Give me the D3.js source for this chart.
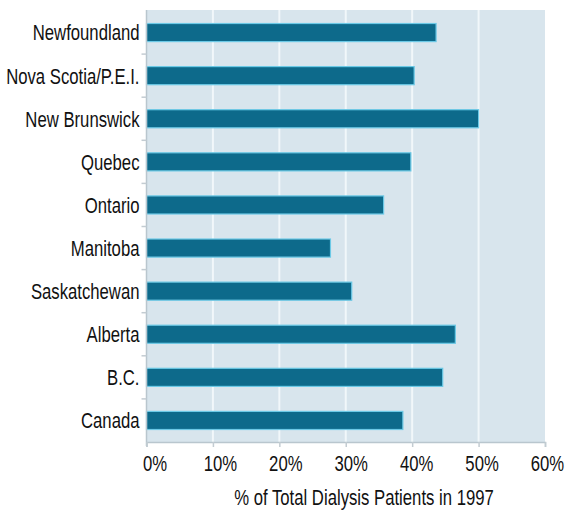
<!DOCTYPE html>
<html>
<head>
<meta charset="utf-8">
<script src="https://cdn.jsdelivr.net/npm/d3@7"></script>
<style>
  html, body { margin: 0; padding: 0; background: #ffffff; }
  svg { display: block; }
  text { font-family: "Liberation Sans", Arial, sans-serif; fill: #111111; }
</style>
</head>
<body>
<svg id="chart" width="567" height="510"></svg>
<script>
// Share of dialysis patients by province, 1997
const provinces = ["Newfoundland", "Nova Scotia/P.E.I.", "New Brunswick", "Quebec", "Ontario",
                   "Manitoba", "Saskatchewan", "Alberta", "B.C.", "Canada"];
const shares = [43.6, 40.3, 50.0, 39.8, 35.7, 27.7, 30.9, 46.5, 44.6, 38.6];
const xTicks = [0, 10, 20, 30, 40, 50, 60];
const xTitle = "% of Total Dialysis Patients in 1997";

// condensed lettering: regular face squeezed horizontally
const FONT_SIZE = 22;
const SQUEEZE = 0.76;

const svg = d3.select("#chart");
const plot = { left: 146.5, right: 545, top: 11, bottom: 442 };

const x = d3.scaleLinear().domain([0, 60]).range([plot.left, plot.right]);
const y = d3.scaleBand().domain(provinces).range([plot.top, plot.bottom]).paddingInner(0.58).paddingOuter(0.29);
const yBands = d3.scaleBand().domain(provinces).range([plot.top, plot.bottom]);

// soft blur used on the bars
const defs = svg.append("defs");
defs.append("filter").attr("id", "soft").attr("x", "-5%").attr("y", "-20%").attr("width", "110%").attr("height", "140%")
  .append("feGaussianBlur").attr("stdDeviation", 0.6);

// panel background
svg.append("rect")
  .attr("x", plot.left).attr("y", plot.top - 1)
  .attr("width", plot.right - plot.left).attr("height", plot.bottom - plot.top + 1)
  .attr("fill", "#d8e5ed");

// vertical gridlines
svg.append("g")
  .selectAll("line")
  .data(xTicks.filter(d => d > 0 && d < 60))
  .join("line")
  .attr("x1", d => x(d)).attr("x2", d => x(d))
  .attr("y1", plot.top - 1).attr("y2", plot.bottom)
  .attr("stroke", "#f1f7fa").attr("stroke-width", 2);

// bars
svg.append("g")
  .selectAll("rect")
  .data(provinces)
  .join("rect")
  .attr("x", x(0))
  .attr("y", d => y(d))
  .attr("width", (d, i) => x(shares[i]) - x(0))
  .attr("height", y.bandwidth())
  .attr("fill", "#0c6a8b")
  .attr("stroke", "#6cc9e6")
  .attr("stroke-width", 1.2)
  .attr("filter", "url(#soft)");

// left axis: tick marks sit on band boundaries
const yAxisG = svg.append("g").attr("transform", `translate(${plot.left},0)`);
yAxisG.append("line")
  .attr("x1", 0).attr("x2", 0).attr("y1", plot.top - 1).attr("y2", plot.bottom + 4)
  .attr("stroke", "#b9c6ce").attr("stroke-width", 1.5);
yAxisG.selectAll("line.tick")
  .data(provinces.slice(1))
  .join("line")
  .attr("class", "tick")
  .attr("x1", -5).attr("x2", 0)
  .attr("y1", d => yBands(d)).attr("y2", d => yBands(d))
  .attr("stroke", "#c3ccd2").attr("stroke-width", 1.5);
yAxisG.selectAll("text")
  .data(provinces)
  .join("text")
  .attr("transform", d => `translate(-7,${y(d) + y.bandwidth() / 2}) scale(${SQUEEZE},1)`)
  .attr("dy", "0.36em")
  .attr("text-anchor", "end")
  .attr("font-size", FONT_SIZE)
  .text(d => d);

// bottom axis; labels sit a little right of their ticks, less so toward the edge
const xAxis = d3.axisBottom(x)
  .tickValues(xTicks)
  .tickFormat(d => d + "%")
  .tickSize(5)
  .tickPadding(8);
const xAxisG = svg.append("g")
  .attr("transform", `translate(0,${plot.bottom})`)
  .call(xAxis);
xAxisG.select(".domain").attr("stroke", "#b9c6ce").attr("stroke-width", 1.5);
xAxisG.selectAll(".tick line").attr("stroke", "#c3ccd2").attr("stroke-width", 1.5);
xAxisG.selectAll(".tick text")
  .attr("font-size", FONT_SIZE)
  .attr("font-family", "Liberation Sans, Arial, sans-serif")
  .attr("fill", "#111111")
  .attr("transform", d => `translate(${8 - d / 10},0) scale(${SQUEEZE},1)`);

// axis title
svg.append("text")
  .attr("transform", `translate(364,505) scale(${SQUEEZE},1)`)
  .attr("text-anchor", "middle")
  .attr("font-size", FONT_SIZE)
  .text(xTitle);
</script>
</body>
</html>
